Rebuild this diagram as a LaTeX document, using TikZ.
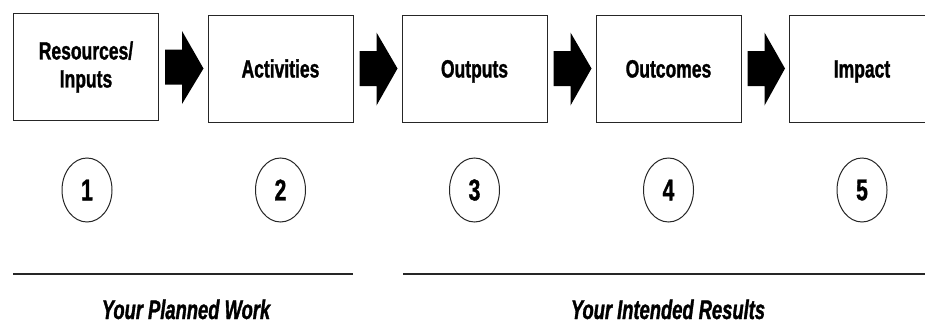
\documentclass[tikz,border=0pt]{standalone}
\usepackage{fontspec}
\setmainfont{Liberation Sans}
\newfontfamily\condfont[FakeStretch=0.7,FakeBold=1.2]{Liberation Sans}
\newfontfamily\condfontb[FakeStretch=0.68,FakeBold=1.2]{Liberation Sans}
\usetikzlibrary{calc,shapes.geometric}
\begin{document}
\begin{tikzpicture}[x=1pt,y=-1pt,
  stagebox/.style={draw=black!85, line width=1pt, minimum width=145pt, minimum height=107pt,
    inner sep=0pt, align=center, font=\condfont\bfseries\fontsize{25}{28}\selectfont},
  oneline/.style={text height=18pt, text depth=0pt},
  numoval/.style={ellipse, draw=black!85, line width=1pt, minimum width=50pt, minimum height=64pt,
    inner sep=0pt, font=\condfont\bfseries\fontsize{30}{30}\selectfont},
  grouprule/.style={line width=1.5pt, black!85},
  grouplabel/.style={inner sep=0pt, anchor=base, font=\condfontb\bfseries\itshape\fontsize{27}{30}\selectfont},
  flowarrow/.style={fill=black}]
\useasboundingbox (0,0) rectangle (925,324);
\node[stagebox] (b1) at (86,67) {Resources/\\Inputs};
\node[stagebox, oneline] (b2) at (280.5,68.5) {Activities};
\node[stagebox, oneline] (b3) at (474.5,68.5) {Outputs};
\node[stagebox, oneline] (b4) at (668.5,68.5) {Outcomes};
\node[stagebox, oneline] (b5) at (862,68.5) {Impact};
\foreach \a/\b in {b1/b2,b2/b3,b3/b4,b4/b5}{
  \fill[flowarrow] ($(\a.east)+(6,-17.5)$) -- ($(\a.east)+(23,-17.5)$) -- ($(\a.east)+(23,-36)$)
    -- ($(\b.west)+(-4,0)$) -- ($(\a.east)+(23,37)$) -- ($(\a.east)+(23,17.5)$)
    -- ($(\a.east)+(6,17.5)$) -- cycle;
}
\node[numoval] (n1) at (87,190) {1};
\node[numoval] (n2) at (280.5,190) {2};
\node[numoval] (n3) at (474.5,190) {3};
\node[numoval] (n4) at (668.5,190) {4};
\node[numoval] (n5) at (862,190) {5};
\coordinate (l1a) at (13,274);
\coordinate (l1b) at (353,274);
\coordinate (l2a) at (403,274);
\coordinate (l2b) at (925,274);
\draw[grouprule] (l1a) -- (l1b);
\draw[grouprule] (l2a) -- (l2b);
\node[grouplabel] (g1) at (186,319) {Your Planned Work};
\node[grouplabel] (g2) at (668,319) {Your Intended Results};
\end{tikzpicture}
\end{document}
